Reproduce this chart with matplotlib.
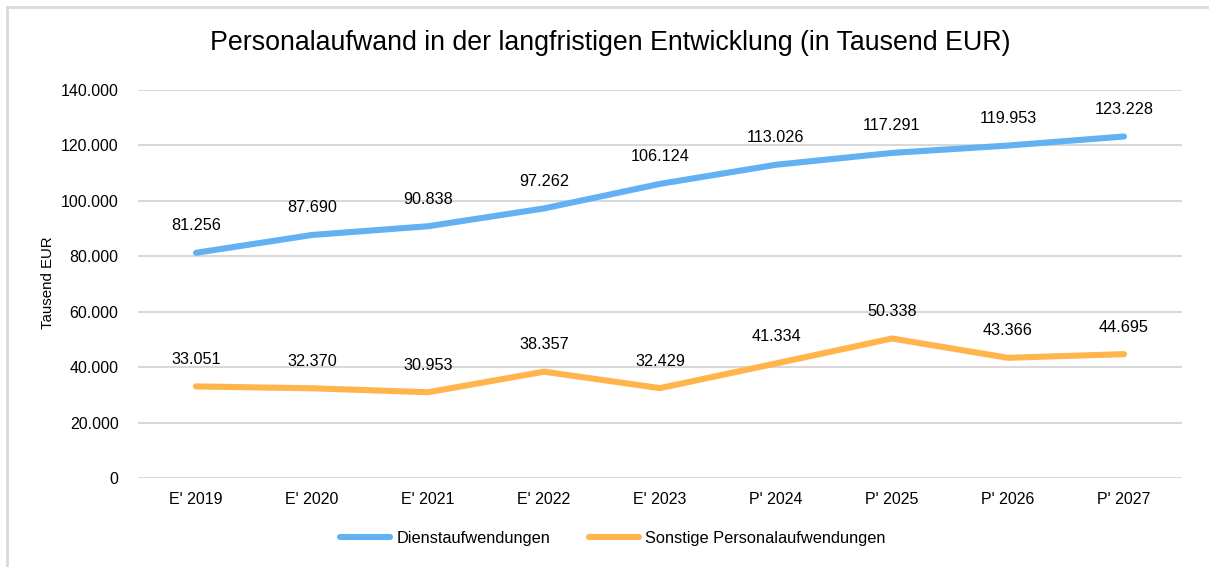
import matplotlib.pyplot as plt
from matplotlib.patches import Rectangle
from matplotlib.ticker import FuncFormatter

plt.rcParams['font.family'] = ['Liberation Sans', 'DejaVu Sans']

years = ["E' 2019", "E' 2020", "E' 2021", "E' 2022", "E' 2023",
         "P' 2024", "P' 2025", "P' 2026", "P' 2027"]
dienst = [81256, 87690, 90838, 97262, 106124, 113026, 117291, 119953, 123228]
sonstige = [33051, 32370, 30953, 38357, 32429, 41334, 50338, 43366, 44695]

blue = '#62B2F3'
orange = '#FFB54C'

def fmt(v):
    return f"{v:,.0f}".replace(',', '.')

fig = plt.figure(figsize=(12.09, 5.67), dpi=100)
ax = fig.add_axes([138 / 1209, 1 - 478 / 567, (1182 - 138) / 1209, (478 - 90) / 567])

# light border around the chart area (cut off on right/bottom)
fig.patches.append(Rectangle((7 / 1209, -0.1), 1.2, 1 - 7 / 567 + 0.1,
                             transform=fig.transFigure, fill=False,
                             edgecolor='#D9D9D9', linewidth=2))

x = list(range(len(years)))
ax.plot(x, dienst, color=blue, lw=4.4, solid_capstyle='round', label='Dienstaufwendungen', zorder=3)
ax.plot(x, sonstige, color=orange, lw=4.4, solid_capstyle='round',
        label='Sonstige Personalaufwendungen', zorder=3)

for xi, v in zip(x, dienst):
    ax.annotate(fmt(v), (xi, v), xytext=(0, 19.5), textcoords='offset points',
                ha='center', va='center', fontsize=11.7, color='#000000')
for xi, v in zip(x, sonstige):
    ax.annotate(fmt(v), (xi, v), xytext=(0, 19.5), textcoords='offset points',
                ha='center', va='center', fontsize=11.7, color='#000000')

ax.set_xlim(-0.5, len(years) - 0.5)
ax.set_ylim(0, 140000)
ax.set_yticks(range(0, 140001, 20000))
ax.yaxis.set_major_formatter(FuncFormatter(lambda v, p: fmt(v)))
ax.set_xticks(x)
ax.set_xticklabels(years)
ax.tick_params(axis='both', length=0, labelsize=11.5, colors='#000000')
ax.tick_params(axis='y', pad=14)
ax.tick_params(axis='x', pad=10)
ax.grid(axis='y', color='#D9D9D9', lw=1.5)
ax.set_axisbelow(True)
for s in ax.spines.values():
    s.set_visible(False)

fig.text(48 / 1209, 1 - 283 / 567, 'Tausend EUR', rotation=90, ha='center', va='center', fontsize=10.8)

fig.text(610 / 1209, 1 - 43 / 567, 'Personalaufwand in der langfristigen Entwicklung (in Tausend EUR)',
         ha='center', va='center', fontsize=19.3)

fig.legend(loc='center', bbox_to_anchor=(613 / 1209, 1 - 538 / 567), ncol=2, frameon=False,
           fontsize=11.8, handlelength=3.05, columnspacing=2.4, handletextpad=0.37)

fig.savefig('out.png', dpi=100)
